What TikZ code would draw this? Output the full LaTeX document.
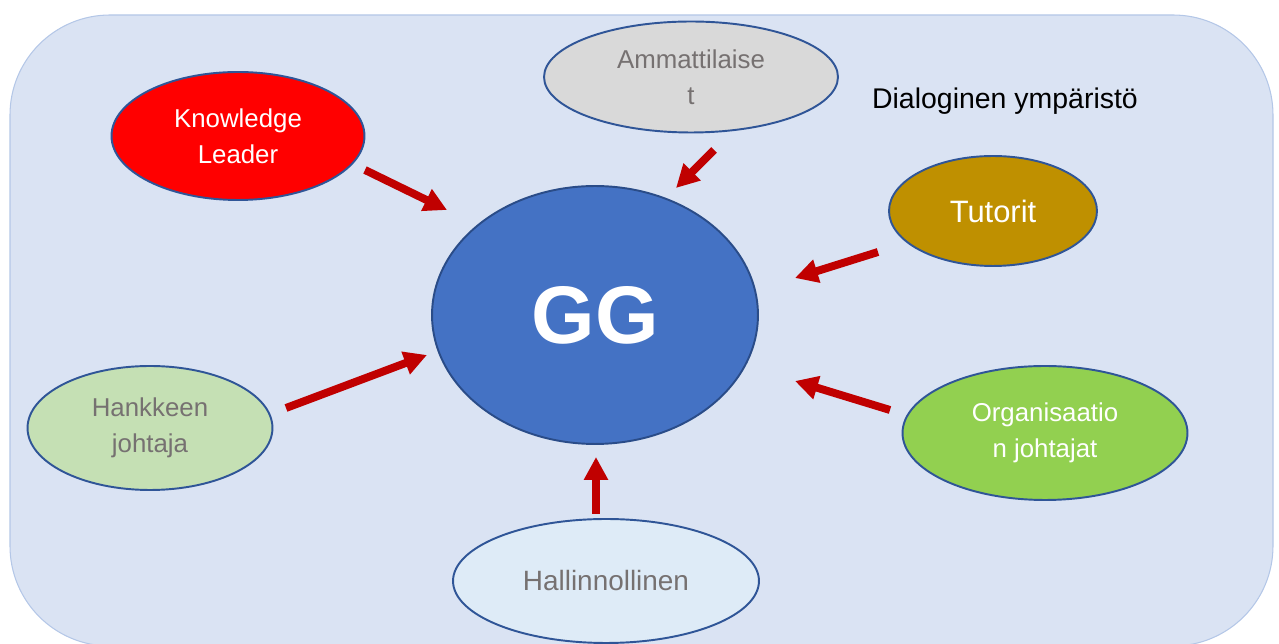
\documentclass[tikz,border=0pt]{standalone}
\usepackage{fontspec}
\setmainfont{Liberation Sans}
\usepackage{tikz}
\usetikzlibrary{arrows.meta,positioning,shapes.geometric}
\usepackage{xcolor}
\definecolor{envfill}{HTML}{DAE3F3}
\definecolor{envline}{HTML}{B4C7E7}
\definecolor{rimblue}{HTML}{2F5597}
\definecolor{arrred}{HTML}{C00000}
\definecolor{txtgray}{HTML}{767171}
\definecolor{ggblue}{HTML}{4472C4}
\definecolor{tutfill}{HTML}{BF9000}
\definecolor{hankfill}{HTML}{C5E0B4}
\definecolor{hallfill}{HTML}{DEEBF7}
\definecolor{orgfill}{HTML}{92D050}
\definecolor{ammfill}{HTML}{D9D9D9}

\begin{document}
\begin{tikzpicture}[
      x=0.02cm, y=-0.02cm,
      bub/.style={draw=rimblue,ellipse,line width=1.1pt,inner sep=0pt,align=center,
                  font=\fontsize{14.7}{20.4}\selectfont},
      arr/.style={-{Triangle[length=13pt,width=13pt]},line width=4.5pt,arrred},
      lbl/.style={font=\fontsize{16.2}{20}\selectfont},
    ]
    \useasboundingbox (0,0) rectangle (1279,644);
    % environment
    \fill[envfill,draw=envline,line width=0.6pt,rounded corners=2cm]
      (10,15) rectangle (1273,646);
    \node[lbl] (env) at (1005,101) {Dialoginen ympäristö};
    % centre
    \node[bub,fill=ggblue,draw=rimblue!90!black,minimum width=6.52cm,minimum height=5.16cm,
          text=white,font=\fontsize{46.5}{50}\selectfont\bfseries] (gg) at (595,315) {GG};
    % surrounding actors
    \node[bub,fill=red,text=white,minimum width=5.06cm,minimum height=2.56cm]
      (kl) at (238,136) {Knowledge\\Leader};
    \node[bub,fill=ammfill,text=txtgray,minimum width=5.88cm,minimum height=2.22cm]
      (amm) at (691,77) {Ammattilaise\\t};
    \node[bub,fill=tutfill,text=white,minimum width=4.16cm,minimum height=2.2cm,
          font=\fontsize{17.6}{20}\selectfont] (tut) at (993,211) {Tutorit};
    \node[bub,fill=hankfill,text=txtgray,minimum width=4.9cm,minimum height=2.48cm]
      (hank) at (150,428) {Hankkeen\\johtaja};
    \node[bub,fill=hallfill,text=txtgray,minimum width=6.12cm,minimum height=2.48cm,
          font=\fontsize{15.9}{20}\selectfont] (hall) at (606,581) {Hallinnollinen};
    \node[bub,fill=orgfill,text=white,minimum width=5.7cm,minimum height=2.68cm]
      (org) at (1045,433) {Organisaatio\\n johtajat};

    % arrow ends
    \coordinate (kl-out) at (365,170);   \coordinate (kl-in) at (447,210);
    \coordinate (amm-out) at (714,150);  \coordinate (amm-in) at (676,188);
    \coordinate (tut-out) at (878,252);  \coordinate (tut-in) at (795,278);
    \coordinate (hank-out) at (286,408); \coordinate (hank-in) at (427,355);
    \coordinate (org-out) at (890,410);  \coordinate (org-in) at (795,381);
    \coordinate (hall-out) at (596,514); \coordinate (hall-in) at (596,457);

    \draw[arr] (kl-out)--(kl-in);
    \draw[arr] (amm-out)--(amm-in);
    \draw[arr] (tut-out)--(tut-in);
    \draw[arr] (hank-out)--(hank-in);
    \draw[arr] (org-out)--(org-in);
    \draw[arr] (hall-out)--(hall-in);
  \end{tikzpicture}
\end{document}
